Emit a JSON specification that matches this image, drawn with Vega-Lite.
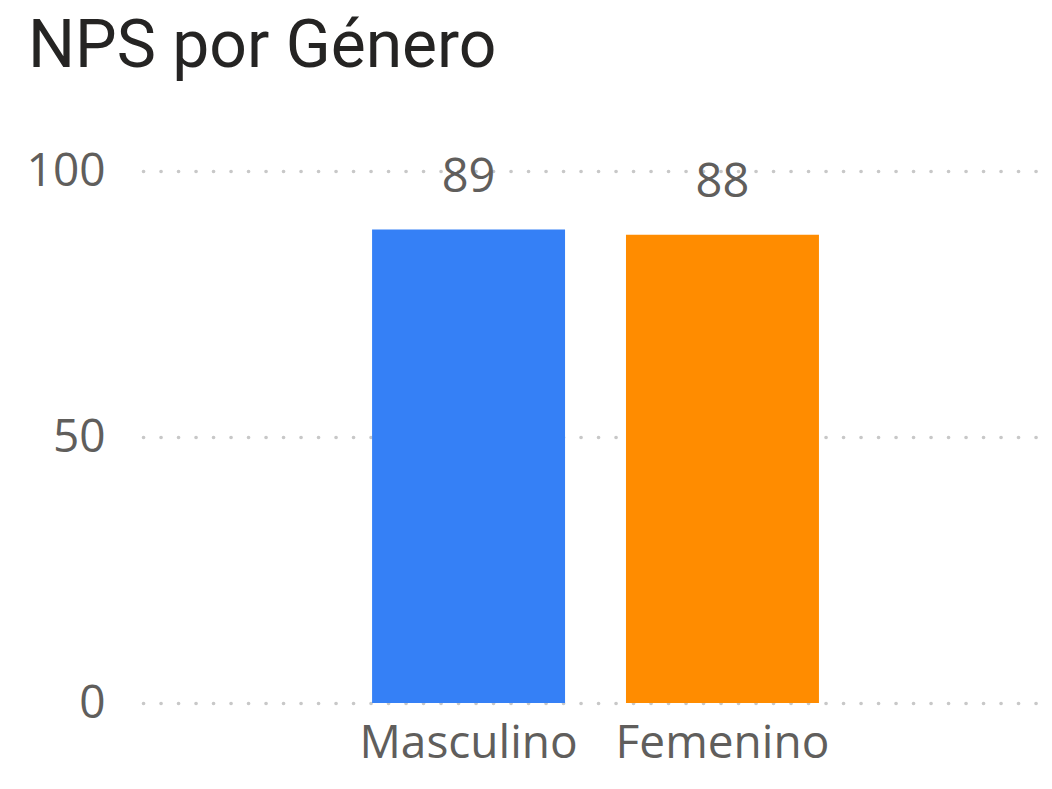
{
  "$schema": "https://vega.github.io/schema/vega-lite/v6.json",
  "autosize": "none",
  "width": 909,
  "height": 532,
  "padding": {"left": 143, "top": 171, "right": 0, "bottom": 86},
  "background": "white",
  "title": {
    "text": "NPS por Género",
    "anchor": "start",
    "frame": "group",
    "font": "Roboto",
    "fontSize": 66,
    "fontWeight": "normal",
    "color": "#252423",
    "dx": -115,
    "dy": -67,
    "offset": 0
  },
  "data": {
    "values": [
      {"genero": "Masculino", "nps": 89},
      {"genero": "Femenino", "nps": 88}
    ]
  },
  "encoding": {
    "x": {
      "field": "genero",
      "type": "nominal",
      "sort": null,
      "scale": {"paddingInner": 0.24, "paddingOuter": 0.91, "align": 0.4957},
      "axis": {
        "title": null,
        "labelAngle": 0,
        "labelLimit": 0,
        "labelFont": "Open Sans",
        "labelFontSize": 46,
        "labelColor": "#605E5C",
        "labelPadding": 18,
        "domain": false,
        "ticks": false,
        "grid": false
      }
    },
    "y": {
      "field": "nps",
      "type": "quantitative",
      "scale": {"domain": [0, 100], "nice": false},
      "axis": {
        "title": null,
        "values": [0, 50, 100],
        "labelFont": "Open Sans",
        "labelFontSize": 46,
        "labelColor": "#605E5C",
        "labelPadding": 38,
        "labelBaseline": "middle",
        "domain": false,
        "ticks": false,
        "grid": true,
        "gridColor": "#C8C8C8",
        "gridWidth": 3.6,
        "gridCap": "round",
        "gridDash": [0.1, 17.4]
      }
    }
  },
  "layer": [
    {
      "mark": {"type": "bar"},
      "encoding": {
        "color": {
          "field": "genero",
          "type": "nominal",
          "scale": {"domain": ["Masculino", "Femenino"], "range": ["#3580F6", "#FF8C00"]},
          "legend": null
        }
      }
    },
    {
      "mark": {
        "type": "text",
        "baseline": "alphabetic",
        "dy": -38,
        "font": "Open Sans",
        "fontSize": 47,
        "color": "#605E5C"
      },
      "encoding": {
        "text": {"field": "nps", "type": "quantitative"}
      }
    }
  ],
  "config": {"view": {"stroke": null}}
}
